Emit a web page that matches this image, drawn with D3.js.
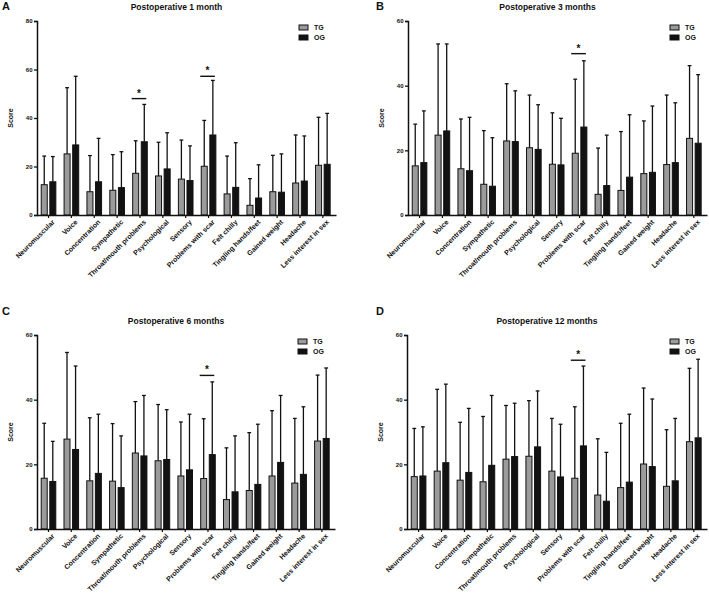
<!DOCTYPE html>
<html><head><meta charset="utf-8">
<script src="https://cdn.jsdelivr.net/npm/d3@7"></script>
<style>
body{margin:0;background:#fff;}
svg{display:block;font-family:"Liberation Sans",Arial,sans-serif;font-weight:bold;}
</style></head><body>
<svg id="chart" width="709" height="594"></svg>
<script>
const categories = ["Neuromuscular","Voice","Concentration","Sympathetic","Throat/mouth problems","Psychological","Sensory","Problems with scar","Felt chilly","Tingling hands/feet","Gained weight","Headache","Less interest in sex"];
const groups = ["TG","OG"];
const panelLetters = ["A","B","C","D"];
const panelTitles = ["Postoperative 1 month","Postoperative 3 months","Postoperative 6 months","Postoperative 12 months"];
const yMaxes = [80,60,60,60];
const yTicksA = [0,20,40,60,80];
const yTicksBCD = [0,20,40,60];

// means and SDs
const tgMean1 = [12.5,25.2,9.6,10.2,17.2,16.1,14.8,20.1,8.7,4.0,9.6,13.2,20.5];
const tgSD1   = [11.8,27.3,14.9,14.7,13.4,13.9,16.1,18.9,15.6,11.0,15.0,19.8,19.8];
const ogMean1 = [13.7,28.9,13.7,11.3,30.2,19.0,14.2,33.0,11.4,7.0,9.4,14.0,20.9];
const ogSD1   = [10.4,28.3,17.9,14.8,15.4,14.9,14.3,22.5,18.4,13.7,15.8,18.6,21.0];

const tgMean3 = [15.2,24.7,14.3,9.5,22.9,20.8,15.7,19.1,6.4,7.6,12.8,15.6,23.7];
const tgSD3   = [12.9,28.2,15.4,16.6,17.7,16.3,15.9,22.9,14.3,18.2,16.3,21.5,22.5];
const ogMean3 = [16.2,26.0,13.7,8.9,22.7,20.3,15.5,27.2,9.1,11.7,13.2,16.2,22.2];
const ogSD3   = [16.0,26.9,16.5,15.0,15.7,13.8,14.4,20.5,15.6,19.3,20.5,18.5,21.2];

const tgMean6 = [15.7,27.8,14.9,14.8,23.5,21.1,16.4,15.6,9.1,11.9,16.4,14.2,27.2];
const tgSD6   = [17.0,26.8,19.5,17.8,15.9,17.4,16.7,18.5,16.0,17.9,20.2,20.0,20.4];
const ogMean6 = [14.7,24.6,17.2,12.8,22.6,21.5,18.3,23.0,11.5,13.8,20.6,16.9,28.0];
const ogSD6   = [12.4,25.8,18.3,16.0,18.7,15.4,17.2,22.5,17.3,18.6,20.7,20.9,21.8];

const tgMean12 = [16.2,17.9,15.1,14.6,21.6,22.5,17.9,15.7,10.5,12.8,20.1,13.2,27.0];
const tgSD12   = [14.9,25.3,17.9,20.2,16.6,17.2,16.3,22.1,17.4,19.9,23.5,17.5,22.7];
const ogMean12 = [16.4,20.5,17.5,19.7,22.4,25.4,16.1,25.7,8.6,14.5,19.3,14.9,28.2];
const ogSD12   = [15.2,24.3,19.8,21.6,16.5,17.3,16.3,24.7,15.1,21.0,20.9,19.3,24.3];

// significance markers: category and bar height of the bracket
const sigCats   = [["Throat/mouth problems","Problems with scar"],["Problems with scar"],["Problems with scar"],["Problems with scar"]];
const sigLevels = [[48,57.2],[49.9],[47.5],[52.2]];

const tgMeans = [tgMean1,tgMean3,tgMean6,tgMean12];
const tgSDs = [tgSD1,tgSD3,tgSD6,tgSD12];
const ogMeans = [ogMean1,ogMean3,ogMean6,ogMean12];
const ogSDs = [ogSD1,ogSD3,ogSD6,ogSD12];

const colors = {TG:"#9b9b9b", OG:"#121212"};

// layout
const frames = [
  {left:37, right:336, top:21, bottom:215, letterX:2, letterY:10, titleY:10, ox:0},
  {left:408, right:707, top:21, bottom:215, letterX:376, letterY:10, titleY:10, ox:354},
  {left:37, right:335, top:335, bottom:529, letterX:2, letterY:315, titleY:324, ox:0},
  {left:407, right:707, top:335, bottom:529, letterX:376, letterY:315, titleY:324, ox:354}
];

const svg = d3.select("#chart");

frames.forEach((f,pi)=>{
  const g = svg.append("g");
  const y = d3.scaleLinear().domain([0,yMaxes[pi]]).range([f.bottom,f.top]);
  const x = d3.scaleBand().domain(categories).range([f.left,f.right]).paddingInner(0.36).paddingOuter(0.22).align(0.42);
  const xs = d3.scaleBand().domain(groups).range([0,x.bandwidth()]).paddingInner(0.3);

  const rows = categories.map((c,i)=>({cat:c, vals:[
    {grp:"TG", mean:tgMeans[pi][i], sd:tgSDs[pi][i]},
    {grp:"OG", mean:ogMeans[pi][i], sd:ogSDs[pi][i]}
  ]}));

  // error bars (upper only)
  const cg = g.selectAll(".cat").data(rows).join("g").attr("transform",d=>`translate(${x(d.cat)},0)`);
  cg.selectAll("line.err").data(d=>d.vals).join("line")
    .attr("x1",d=>xs(d.grp)+xs.bandwidth()/2).attr("x2",d=>xs(d.grp)+xs.bandwidth()/2)
    .attr("y1",d=>y(d.mean)).attr("y2",d=>y(d.mean+d.sd))
    .attr("stroke","#111").attr("stroke-width",1.3);
  cg.selectAll("line.cap").data(d=>d.vals).join("line")
    .attr("x1",d=>xs(d.grp)+xs.bandwidth()/2-1.9).attr("x2",d=>xs(d.grp)+xs.bandwidth()/2+1.9)
    .attr("y1",d=>y(d.mean+d.sd)).attr("y2",d=>y(d.mean+d.sd))
    .attr("stroke","#111").attr("stroke-width",1.3);
  cg.selectAll("rect").data(d=>d.vals).join("rect")
    .attr("x",d=>xs(d.grp)).attr("width",xs.bandwidth())
    .attr("y",d=>y(d.mean)).attr("height",d=>y(0)-y(d.mean))
    .attr("fill",d=>colors[d.grp]).attr("stroke","#111").attr("stroke-width",1);

  // axes
  const ticks = pi===0 ? yTicksA : yTicksBCD;
  const ya = g.append("g").attr("transform",`translate(${f.left},0)`)
    .call(d3.axisLeft(y).tickValues(ticks).tickSize(3).tickPadding(1.5).tickFormat(d3.format("d")));
  ya.select(".domain").attr("stroke","#111").attr("stroke-width",1.5);
  ya.selectAll(".tick line").attr("stroke","#111").attr("stroke-width",1.3);
  ya.selectAll("text").attr("font-size",6).attr("font-weight","bold").attr("font-family","Liberation Sans, Arial").attr("fill","#111");

  const xa = g.append("g").attr("transform",`translate(0,${f.bottom})`)
    .call(d3.axisBottom(x).tickSize(3).tickSizeOuter(0).tickPadding(2));
  xa.select(".domain").attr("stroke","#111").attr("stroke-width",1.5);
  xa.selectAll(".tick line").attr("stroke","#111").attr("stroke-width",1.2);
  xa.selectAll("text").attr("font-size",7).attr("font-weight","bold").attr("font-family","Liberation Sans, Arial").attr("fill","#111")
    .attr("text-anchor","end").attr("dy",0).attr("transform","translate(3,4) rotate(-45)");

  // significance
  sigCats[pi].forEach((c,k)=>{
    const lv = y(sigLevels[pi][k]);
    const x0 = x(c)+xs("TG")-1, x1 = x(c)+xs("OG")+xs.bandwidth()-1;
    g.append("line").attr("x1",x0).attr("x2",x1).attr("y1",lv).attr("y2",lv).attr("stroke","#111").attr("stroke-width",1.4);
    g.append("text").attr("x",(x0+x1)/2).attr("y",lv-2).attr("text-anchor","middle").attr("font-size",10).attr("fill","#111").text("*");
  });

  // titles
  g.append("text").attr("x",(f.left+f.right)/2-10).attr("y",f.titleY).attr("text-anchor","middle").attr("font-size",8.5).attr("fill","#111").text(panelTitles[pi]);
  g.append("text").attr("x",f.letterX).attr("y",f.letterY).attr("font-size",11).attr("fill","#111").text(panelLetters[pi]);
  g.append("text").attr("transform",`translate(${f.left-24},${(f.top+f.bottom)/2}) rotate(-90)`).attr("text-anchor","middle").attr("font-size",7).attr("fill","#111").text("Score");

  // legend
  const lg = g.append("g").attr("transform",`translate(${f.right-37},${f.top+4})`);
  groups.forEach((gr,k)=>{
    lg.append("rect").attr("x",0).attr("y",k*10).attr("width",9).attr("height",5).attr("fill",colors[gr]).attr("stroke","#111").attr("stroke-width",1);
    lg.append("text").attr("x",15).attr("y",k*10+5).attr("font-size",7).attr("fill","#111").text(gr);
  });
});
</script>
</body></html>
